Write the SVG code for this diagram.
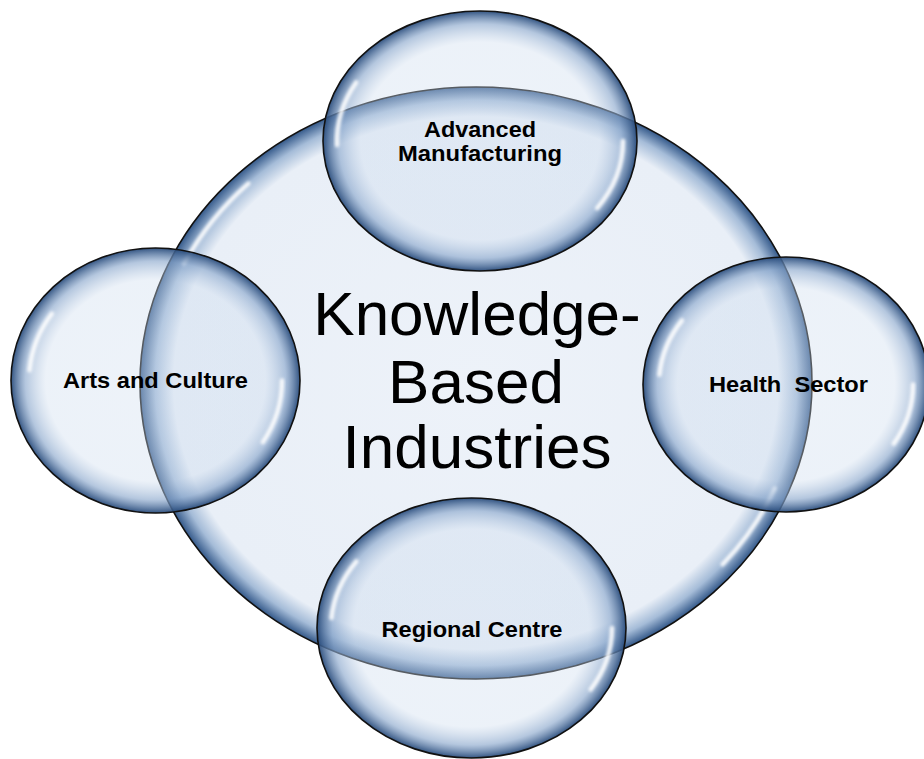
<svg xmlns="http://www.w3.org/2000/svg" width="924" height="759" viewBox="0 0 924 759">
  <defs>
    <!-- glassy fill for the central disc -->
    <radialGradient id="hubFill" cx="0.5" cy="0.5" r="0.5">
      <stop offset="0" stop-color="#edf2f9"/>
      <stop offset="0.9" stop-color="#e9eff7"/>
      <stop offset="0.955" stop-color="#a5bcd8"/>
      <stop offset="1" stop-color="#34598a"/>
    </radialGradient>
    <!-- translucent bubble fill for the satellite discs -->
    <radialGradient id="bubbleFill" cx="0.5" cy="0.5" r="0.5">
      <stop offset="0" stop-color="#cddcee" stop-opacity="0.35"/>
      <stop offset="0.76" stop-color="#cddcee" stop-opacity="0.38"/>
      <stop offset="0.9" stop-color="#8aa7cc" stop-opacity="0.64"/>
      <stop offset="1" stop-color="#284b7b" stop-opacity="0.95"/>
    </radialGradient>
    <filter id="soft" x="-20%" y="-20%" width="140%" height="140%">
      <feGaussianBlur stdDeviation="1.6"/>
    </filter>
  </defs>
  <style>
    .hub { fill: url(#hubFill); stroke: #111; stroke-width: 1.6; }
    .bubble { fill: url(#bubbleFill); stroke: #111; stroke-width: 1.6; }
    .shine { fill: none; stroke: #ffffff; stroke-width: 4.5; stroke-linecap: round; opacity: 0.9; filter: url(#soft); }
    .title { font-family: "Liberation Sans", Arial, sans-serif; font-size: 62px; fill: #000; text-anchor: middle; }
    .label { font-family: "Liberation Sans", Arial, sans-serif; font-size: 22.5px; font-weight: bold; fill: #000; text-anchor: middle; }
  </style>

  <!-- central disc -->
  <g id="knowledge-based-industries">
    <ellipse class="hub" cx="476" cy="383" rx="336" ry="296"/>
    <path class="shine" d="M184.2 263.8 A322 282 0 0 1 248.3 183.6"/>
    <path class="shine" d="M774.6 488.6 A322 282 0 0 1 722.7 564.3"/>
    <text class="title" x="477" y="335">Knowledge-</text>
    <text class="title" x="476" y="403">Based</text>
    <text class="title" x="477" y="468">Industries</text>
  </g>

  <!-- top disc -->
  <g id="advanced-manufacturing">
    <ellipse class="bubble" cx="480" cy="141" rx="157" ry="130"/>
    <path class="shine" d="M337.1 145.1 A143 117 0 0 1 356.2 82.5"/>
    <path class="shine" d="M623 141 A143 117 0 0 1 597.1 208.1"/>
    <text class="label" x="480" y="137" textLength="112" lengthAdjust="spacingAndGlyphs">Advanced</text>
    <text class="label" x="480" y="161" textLength="164" lengthAdjust="spacingAndGlyphs">Manufacturing</text>
  </g>

  <!-- left disc -->
  <g id="arts-and-culture">
    <ellipse class="bubble" cx="155.5" cy="380.5" rx="144.5" ry="132.5"/>
    <path class="shine" d="M29.5 370.3 A126.5 116.5 0 0 1 51.9 313.7"/>
    <path class="shine" d="M282 380.5 A126.5 116.5 0 0 1 262.8 442.2"/>
    <text class="label" x="155.5" y="388" textLength="185" lengthAdjust="spacingAndGlyphs">Arts and Culture</text>
  </g>

  <!-- right disc -->
  <g id="health-sector">
    <ellipse class="bubble" cx="786" cy="384.5" rx="143" ry="127.5"/>
    <path class="shine" d="M659.5 374.8 A127 111.5 0 0 1 682 320.5"/>
    <path class="shine" d="M913 384.5 A127 111.5 0 0 1 893.7 443.6"/>
    <text class="label" x="788.5" y="392" textLength="159" lengthAdjust="spacingAndGlyphs" xml:space="preserve">Health  Sector</text>
  </g>

  <!-- bottom disc -->
  <g id="regional-centre">
    <ellipse class="bubble" cx="471.5" cy="628" rx="154.5" ry="130"/>
    <path class="shine" d="M331.5 617.9 A140.5 116 0 0 1 356.4 561.5"/>
    <path class="shine" d="M612 628 A140.5 116 0 0 1 590.6 689.5"/>
    <text class="label" x="472" y="637" textLength="181" lengthAdjust="spacingAndGlyphs">Regional Centre</text>
  </g>
</svg>
